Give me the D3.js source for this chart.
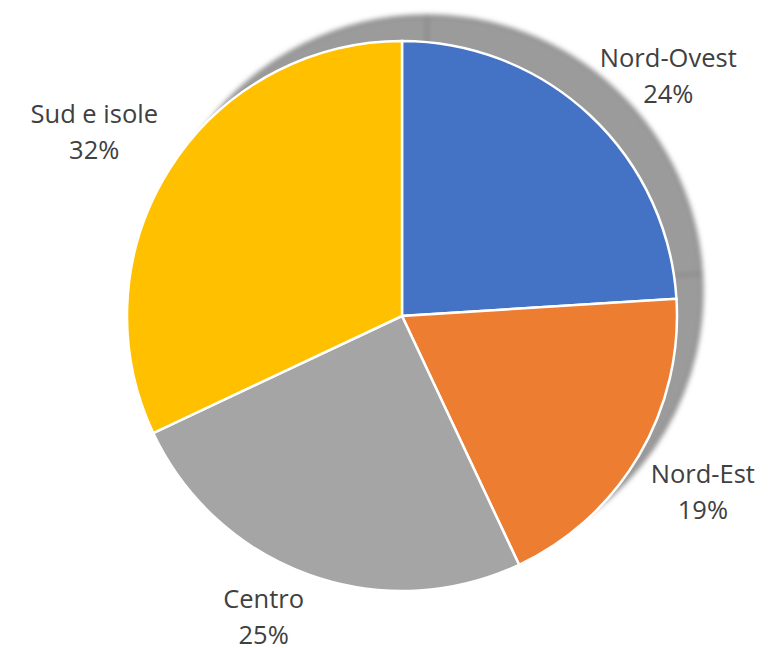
<!DOCTYPE html>
<meta charset="utf-8">
<script src="https://d3js.org/d3.v7.min.js"></script>
<style>
  body { margin: 0; background: #fff; }
</style>
<div id="my_dataviz"></div>
<script>

// data
var regions = ["Nord-Ovest", "Nord-Est", "Centro", "Sud e isole"];
var shares = [24, 19, 25, 32];
var colors = ["#4472C4", "#ED7D31", "#A5A5A5", "#FFC000"];

var width = 774, height = 648;
var cx = 402, cy = 316, radius = 275;

var svg = d3.select("#my_dataviz")
  .append("svg")
    .attr("width", width)
    .attr("height", height);

// blur for the drop shadow
var defs = svg.append("defs");
defs.append("filter")
    .attr("id", "blur")
    .attr("x", "-20%").attr("y", "-20%")
    .attr("width", "140%").attr("height", "140%")
  .append("feGaussianBlur")
    .attr("stdDeviation", 2.5);

var data = regions.map(function(d, i){ return {name: d, value: shares[i], color: colors[i]} });

var pie = d3.pie()
  .value(function(d){ return d.value })
  .sort(null);

var arc = d3.arc()
  .innerRadius(0)
  .outerRadius(radius);

var arcs = pie(data);

// shadow, offset up and right
svg.append("g")
    .attr("transform", "translate(" + (cx + 25) + "," + (cy - 25) + ")")
    .attr("filter", "url(#blur)")
  .selectAll("path")
  .data(arcs)
  .enter()
  .append("path")
    .attr("d", arc)
    .style("fill", "#9b9b9b")
    .attr("stroke", "#888")
    .style("stroke-width", 3);

// slices
var g = svg.append("g")
    .attr("transform", "translate(" + cx + "," + cy + ")");

g.selectAll("slices")
  .data(arcs)
  .enter()
  .append("path")
    .attr("d", arc)
    .style("fill", function(d){ return d.data.color })
    .attr("stroke", "white")
    .style("stroke-width", 2.5);

// labels outside the end of each slice
var lineH = 36, labelR = radius + 14;

var labels = g.selectAll("labels")
  .data(arcs)
  .enter()
  .append("text")
    .style("font-family", "'Open Sans', sans-serif")
    .style("font-size", "25.5px")
    .style("fill", "#404040")
    .style("text-anchor", "middle");

labels.append("tspan")
    .attr("x", 0)
    .attr("dy", 0)
    .text(function(d){ return d.data.name });
labels.append("tspan")
    .attr("x", 0)
    .attr("dy", lineH)
    .text(function(d){ return d.data.value + "%" });

labels.attr("transform", function(d){
  var a = (d.startAngle + d.endAngle) / 2;
  var sx = Math.sin(a), sy = -Math.cos(a);
  var w = this.getBBox().width;
  // visual box: cap top of line 1 to baseline of line 2
  var top = -20, bottom = lineH + 2, h = bottom - top;
  var px = labelR * sx, py = labelR * sy;
  var bx = px + (sx >= 0 ? 1 : -1) * w / 2;
  var by = py + (sy >= 0 ? 1 : -1) * h / 2;
  return "translate(" + bx + "," + (by - (top + h / 2)) + ")";
});

</script>
